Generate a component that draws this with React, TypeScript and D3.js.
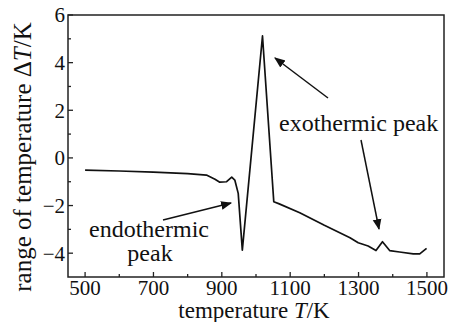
import React from 'react';
import * as d3 from 'd3';

// DTA curve
const temperatures = [500, 600, 700, 800, 855, 880, 894, 914, 929, 938, 948, 960, 1019, 1052, 1068, 1128, 1200, 1275, 1299, 1328, 1351, 1370, 1391, 1420, 1460, 1479, 1499];
const deltaT = [-0.51, -0.55, -0.6, -0.66, -0.72, -0.9, -1.02, -1.0, -0.81, -0.93, -1.49, -3.87, 5.12, -1.84, -1.93, -2.3, -2.83, -3.35, -3.56, -3.7, -3.89, -3.52, -3.89, -3.95, -4.03, -4.03, -3.8];

const xTicks = [500, 700, 900, 1100, 1300, 1500];
const xMinorTicks = [600, 800, 1000, 1200, 1400];
const yTicks = [-4, -2, 0, 2, 4, 6];
const yMinorTicks = [-3, -1, 1, 3, 5];

const width = 451;
const height = 322;
const margin = { top: 15, right: 7, bottom: 45, left: 68 };
const font = "'Liberation Serif', 'Times New Roman', Times, serif";

const fmt = (v: number) => (v < 0 ? `\u2212${Math.abs(v)}` : `${v}`);

// annotation arrows (page pixels): tail -> head
const arrows = [
  [328, 98, 275, 58],
  [361, 140, 379, 229],
  [163, 220, 231, 203],
];

export default function App() {
  const innerW = width - margin.left - margin.right;
  const innerH = height - margin.top - margin.bottom;

  const x = d3.scaleLinear().domain([450, 1550]).range([0, innerW]);
  const y = d3.scaleLinear().domain([-5, 6]).range([innerH, 0]);

  const points = temperatures.map((t, i) => [t, deltaT[i]] as [number, number]);
  const line = d3
    .line<[number, number]>()
    .x(d => x(d[0]))
    .y(d => y(d[1]));

  return (
    <svg
      width={width}
      height={height}
      style={{ position: 'absolute', left: 0, top: 0, background: '#fff', fontFamily: font }}
    >
      <defs>
        <marker id="head" viewBox="0 0 10 10" refX="9" refY="5" markerWidth="11" markerHeight="11" markerUnits="userSpaceOnUse" orient="auto">
          <path d="M0,1 L10,5 L0,9 z" fill="#111" />
        </marker>
      </defs>
      <g transform={`translate(${margin.left},${margin.top})`}>
        <rect x={0} y={0} width={innerW} height={innerH} fill="none" stroke="#222" strokeWidth={1.5} />

        {xTicks.map(t => (
          <g key={`xt${t}`}>
            <line x1={x(t)} x2={x(t)} y1={innerH} y2={innerH - 5} stroke="#222" strokeWidth={1.3} />
            <text x={x(t)} y={innerH + 18} fontSize={21} textAnchor="middle" fill="#111">{t}</text>
          </g>
        ))}
        {xMinorTicks.map(t => (
          <line key={`xm${t}`} x1={x(t)} x2={x(t)} y1={innerH} y2={innerH - 3} stroke="#222" strokeWidth={1.3} />
        ))}
        {yTicks.map(t => (
          <g key={`yt${t}`}>
            <line x1={0} x2={5} y1={y(t)} y2={y(t)} stroke="#222" strokeWidth={1.3} />
            <text x={-3} y={y(t)} dy="0.35em" fontSize={21} textAnchor="end" fill="#111">{fmt(t)}</text>
          </g>
        ))}
        {yMinorTicks.map(t => (
          <line key={`ym${t}`} x1={0} x2={3} y1={y(t)} y2={y(t)} stroke="#222" strokeWidth={1.3} />
        ))}

        <path d={line(points) ?? ''} fill="none" stroke="#111" strokeWidth={1.7} strokeLinejoin="round" />
      </g>

      {arrows.map((a, i) => (
        <line key={`ar${i}`} x1={a[0]} y1={a[1]} x2={a[2]} y2={a[3]} stroke="#111" strokeWidth={1.5} markerEnd="url(#head)" />
      ))}

      <text x={279} y={131} fontSize={24} fill="#111">exothermic peak</text>
      <text x={149} y={237} fontSize={24} textAnchor="middle" fill="#111">endothermic</text>
      <text x={150} y={261} fontSize={24} textAnchor="middle" fill="#111">peak</text>

      <text x={254} y={318} fontSize={23} textAnchor="middle" fill="#111">
        temperature <tspan fontStyle="italic">T</tspan>/K
      </text>
      <text transform="translate(31,157) rotate(-90)" fontSize={25} textAnchor="middle" fill="#111">
        range of temperature Δ<tspan fontStyle="italic">T</tspan>/K
      </text>
    </svg>
  );
}
